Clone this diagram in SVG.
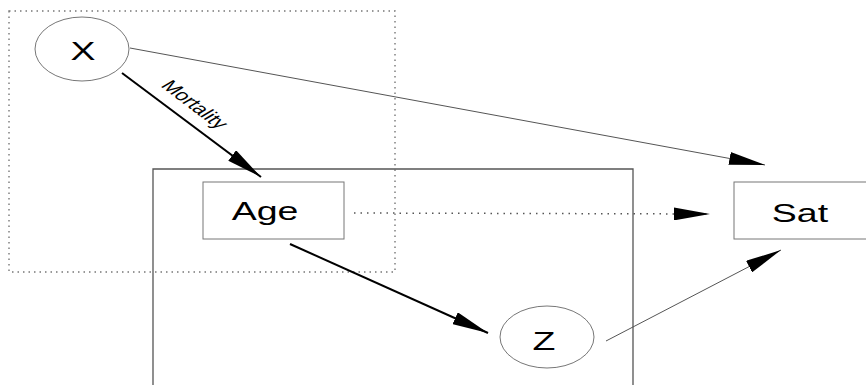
<svg xmlns="http://www.w3.org/2000/svg" width="866" height="385" viewBox="0 0 866 385">
  <style>
    .lbl { font-family: "Liberation Sans", Arial, sans-serif; font-size: 25px; fill: #000; text-anchor: middle; }
    .small { font-family: "Liberation Sans", Arial, sans-serif; font-size: 15.5px; fill: #000; text-anchor: middle; }
    .shape { fill: #fff; stroke: #777; stroke-width: 1; }
    .frame { fill: none; stroke: #555; stroke-width: 1.3; }
    .scope { fill: none; stroke: #777; stroke-width: 1.4; stroke-dasharray: 1.5 4; }
    .thick { stroke: #000; stroke-width: 2; fill: none; }
    .thin { stroke: #555; stroke-width: 1; fill: none; }
    .dots { stroke: #555; stroke-width: 1.5; stroke-dasharray: 1.5 5; fill: none; }
  </style>
  <defs>
    <marker id="head" viewBox="0 0 36 13" refX="36" refY="6.5" markerWidth="36" markerHeight="13" markerUnits="userSpaceOnUse" orient="auto">
      <path d="M0,0 L36,6.5 L0,13 z" fill="#000"/>
    </marker>
  </defs>

  <rect width="866" height="385" fill="#fff"/>

  <!-- frames -->
  <rect class="scope" x="9" y="11" width="386" height="261"/>
  <path class="frame" d="M153,386 V169 H633 V386"/>

  <!-- connectors -->
  <g id="connectors">
    <line class="thick" x1="122" y1="73" x2="261" y2="177" marker-end="url(#head)"/>
    <text class="small" transform="translate(189,108) scale(1.5,1) rotate(48.5)">Mortality</text>
    <line class="thin" x1="130" y1="48" x2="765" y2="165" marker-end="url(#head)"/>
    <line class="dots" x1="354" y1="213" x2="710" y2="214" marker-end="url(#head)"/>
    <line class="thick" x1="290" y1="244" x2="488" y2="333" marker-end="url(#head)"/>
    <line class="thin" x1="606" y1="341" x2="781" y2="250" marker-end="url(#head)"/>
  </g>

  <!-- nodes -->
  <g id="node-x">
    <ellipse class="shape" cx="82" cy="49" rx="47" ry="32"/>
    <text class="lbl" transform="translate(83,60) scale(1.5,1)">X</text>
  </g>
  <g id="node-age">
    <rect class="shape" x="203" y="182" width="141" height="57"/>
    <text class="lbl" transform="translate(265,220) scale(1.5,1)">Age</text>
  </g>
  <g id="node-sat">
    <rect class="shape" x="734" y="182" width="140" height="57"/>
    <text class="lbl" transform="translate(800,222) scale(1.5,1)">Sat</text>
  </g>
  <g id="node-z">
    <ellipse class="shape" cx="547" cy="337" rx="47" ry="31"/>
    <text class="lbl" transform="translate(544,350) scale(1.5,1)">Z</text>
  </g>
</svg>
